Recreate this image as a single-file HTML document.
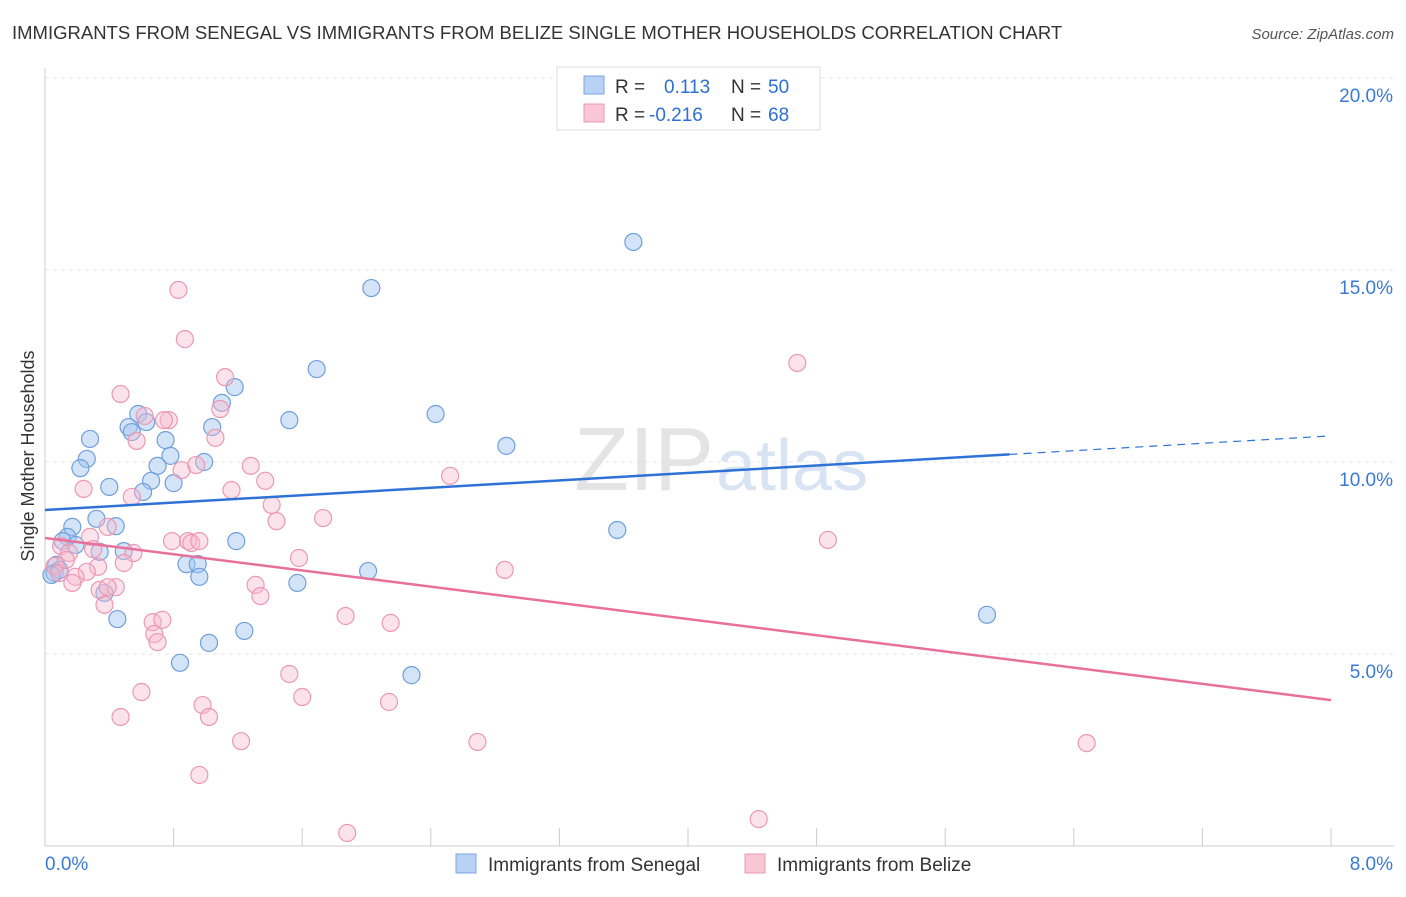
<!DOCTYPE html>
<html><head><meta charset="utf-8"><style>
body{margin:0;background:#fff;font-family:"Liberation Sans",sans-serif;}
svg text{font-family:"Liberation Sans",sans-serif;}
</style></head><body>
<svg id="c" width="1406" height="892" viewBox="0 0 1406 892">
<text x="12" y="39" font-size="18.5" fill="#333">IMMIGRANTS FROM SENEGAL VS IMMIGRANTS FROM BELIZE SINGLE MOTHER HOUSEHOLDS CORRELATION CHART</text>
<text x="1394" y="39" font-size="15" fill="#555" font-style="italic" text-anchor="end">Source: ZipAtlas.com</text>
<text x="714" y="490" font-size="90" fill="#e4e4e4" text-anchor="end" font-family="Liberation Serif">ZIP</text>
<text x="716" y="490" font-size="72" fill="#d8e4f3">atlas</text>
<g id="grid"></g><g id="axes"></g><g id="pts"></g><g id="lines"></g>
<text transform="translate(34,456) rotate(-90)" font-size="18" fill="#333" text-anchor="middle">Single Mother Households</text>
<g>
<rect x="557" y="67" width="263" height="63" fill="#fff" stroke="#ddd"/>
<rect x="584" y="76" width="20" height="18" fill="#b7d2f4" stroke="#7aa6e0"/>
<rect x="584" y="104" width="20" height="18" fill="#f9c6d5" stroke="#ec98b3"/>
<text x="615" y="93" font-size="19" fill="#333">R = <tspan x="664" fill="#2e6fd3">0.113</tspan><tspan x="731" fill="#333">N = </tspan><tspan x="768" fill="#2e6fd3">50</tspan></text>
<text x="615" y="121" font-size="19" fill="#333">R = <tspan x="649" fill="#2e6fd3">-0.216</tspan><tspan x="731" fill="#333">N = </tspan><tspan x="768" fill="#2e6fd3">68</tspan></text>
</g>
<g>
<rect x="456" y="854" width="20" height="19" fill="#b7d2f4" stroke="#7aa6e0"/>
<text x="488" y="871" font-size="19" fill="#333">Immigrants from Senegal</text>
<rect x="745" y="854" width="20" height="19" fill="#f9c6d5" stroke="#ec98b3"/>
<text x="777" y="871" font-size="19" fill="#333">Immigrants from Belize</text>
</g>
</svg>
<script>
const yTicks=[5,10,15,20];
const yTickLabels=["5.0%","10.0%","15.0%","20.0%"];
const xTickLabels=["0.0%","8.0%"];
const senX=[3.66,2.03,1.69,1.18,1.10,0.58,1.52,2.43,0.63,0.52,0.54,1.04,0.28,0.75,2.87,0.26,0.78,0.99,0.22,0.70,0.80,0.66,0.40,0.61,0.32,0.44,0.17,3.56,1.19,0.14,0.11,0.19,0.49,0.34,0.88,0.95,0.96,2.01,1.57,0.07,0.06,0.09,0.37,0.45,5.86,1.24,1.02,0.84,2.28,0.04];
const senY=[15.73,14.53,12.42,11.95,11.54,11.25,11.09,11.25,11.04,10.91,10.78,10.91,10.60,10.57,10.42,10.08,10.16,10.00,9.84,9.90,9.45,9.51,9.35,9.22,8.52,8.33,8.31,8.23,7.94,8.05,7.94,7.84,7.68,7.66,7.34,7.34,7.01,7.16,6.85,7.32,7.11,7.19,6.59,5.91,6.02,5.60,5.29,4.77,4.45,7.06];
const belX=[0.83,0.87,4.68,1.12,0.47,1.09,0.62,0.77,0.74,0.57,1.06,0.24,1.28,0.94,0.85,2.52,0.54,1.16,1.37,1.41,1.73,1.44,4.87,0.39,0.28,0.79,0.89,0.91,0.30,0.10,0.15,0.55,1.58,0.49,2.86,0.33,0.26,0.19,0.06,0.09,0.17,1.31,0.34,0.44,0.39,1.34,0.37,1.87,2.15,0.67,0.73,0.68,0.70,1.52,0.60,1.60,0.98,2.14,0.47,1.02,1.22,2.69,6.48,0.96,4.44,1.88,0.96,0.13];
const belY=[14.48,13.20,12.58,12.21,11.77,11.38,11.20,11.09,11.09,10.55,10.63,9.30,9.90,9.92,9.79,9.64,9.09,9.27,9.51,8.88,8.54,8.46,7.97,8.31,8.05,7.94,7.94,7.89,7.73,7.81,7.63,7.63,7.50,7.37,7.19,7.27,7.14,7.01,7.29,7.11,6.85,6.80,6.67,6.74,6.74,6.51,6.28,5.99,5.81,5.83,5.89,5.52,5.31,4.48,4.01,3.88,3.67,3.75,3.36,3.36,2.73,2.71,2.68,1.85,0.70,0.34,7.94,7.45];
const senTrend=[8.75,10.68];
const belTrend=[8.02,3.80];
const NS="http://www.w3.org/2000/svg";
const X0=45,X1=1331,Y0=846,PY=38.4;
function sx(v){return X0+(X1-X0)*v/8;}
function sy(v){return Y0-v*PY;}
function mk(t,a,p){const e=document.createElementNS(NS,t);for(const k in a)e.setAttribute(k,a[k]);document.getElementById(p).appendChild(e);return e;}
let e;
yTicks.forEach((v,i)=>{
  e=mk('line',{x1:X0,x2:1394,y1:sy(v),y2:sy(v),stroke:'#e4e4e4','stroke-dasharray':'4,4'},'grid');
  
  
  e=mk('text',{x:1393,y:sy(v)+24,'font-size':19,fill:'#3a7ad6','text-anchor':'end'},'axes');
  e.textContent=yTickLabels[i];
  
  
});
e=mk('line',{x1:X0,x2:X0,y1:68,y2:Y0,stroke:'#ccc'},'axes');


e=mk('line',{x1:X0,x2:1394,y1:Y0,y2:Y0,stroke:'#ccc'},'axes');


for(let i=0;i<=10;i++){
  e=mk('line',{x1:sx(i*0.8),x2:sx(i*0.8),y1:Y0-18,y2:Y0,stroke:'#ccc'},'axes');
  
  
}
e=mk('text',{x:45,y:870,'font-size':19,fill:'#3a7ad6'},'axes');e.textContent=xTickLabels[0];


e=mk('text',{x:1393,y:870,'font-size':19,fill:'#3a7ad6','text-anchor':'end'},'axes');e.textContent=xTickLabels[1];


senX.forEach((v,i)=>{
  e=mk('circle',{cx:sx(v),cy:sy(senY[i]),r:8.5,fill:'rgba(160,196,240,0.45)',stroke:'#6f9fdc','stroke-width':1.2},'pts');
  
  
});
belX.forEach((v,i)=>{
  e=mk('circle',{cx:sx(v),cy:sy(belY[i]),r:8.5,fill:'rgba(247,185,205,0.4)',stroke:'#ec98b3','stroke-width':1.2},'pts');
  
  
});
const xs=6.0;
const ys=senTrend[0]+(senTrend[1]-senTrend[0])*xs/8;
e=mk('line',{x1:sx(0),y1:sy(senTrend[0]),x2:sx(xs),y2:sy(ys),stroke:'#2f72d6','stroke-width':2.5},'lines');


e=mk('line',{x1:sx(xs),y1:sy(ys),x2:sx(8),y2:sy(senTrend[1]),stroke:'#2f72d6','stroke-width':1.2,'stroke-dasharray':'8,6'},'lines');


e=mk('line',{x1:sx(0),y1:sy(belTrend[0]),x2:sx(8),y2:sy(belTrend[1]),stroke:'#e8709a','stroke-width':2.5},'lines');


</script>
</body></html>
